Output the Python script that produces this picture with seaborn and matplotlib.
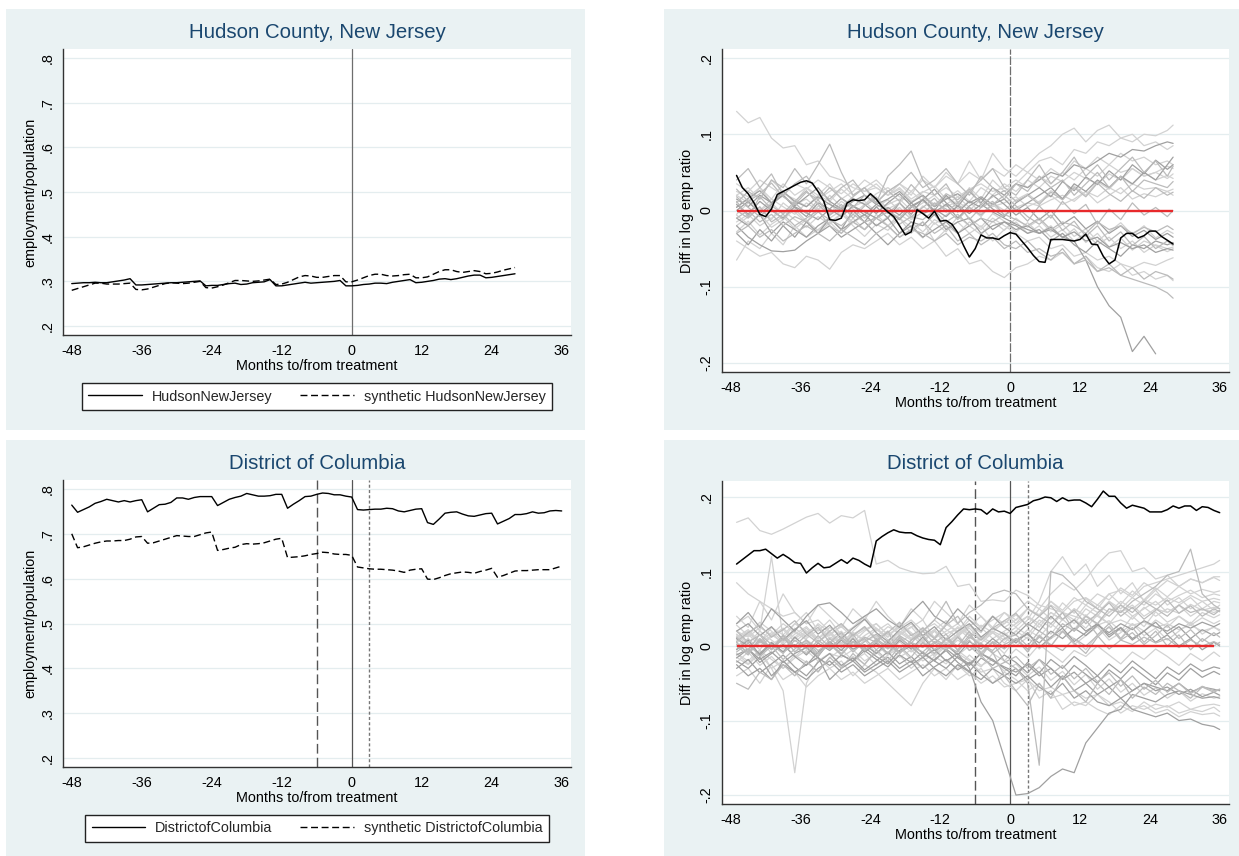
import numpy as np
import pandas as pd
import matplotlib
matplotlib.use("Agg")
import matplotlib.pyplot as plt
import seaborn as sns
from matplotlib.patches import Rectangle
from matplotlib.lines import Line2D

nan = np.nan

# ------------------------------------------------------------------ data
TITLE_NJ = "Hudson County, New Jersey"
TITLE_DC = "District of Columbia"
XLABEL = "Months to/from treatment"
YLABEL_LEVEL = "employment/population"
YLABEL_GAP = "Diff in log emp ratio"
LEGEND_NJ = ["HudsonNewJersey", "synthetic HudsonNewJersey"]
LEGEND_DC = ["DistrictofColumbia", "synthetic DistrictofColumbia"]

XTICKS = [-48, -36, -24, -12, 0, 12, 24, 36]
XTICK_LABELS = ["-48", "-36", "-24", "-12", "0", "12", "24", "36"]
LEVEL_YTICKS = [0.2, 0.3, 0.4, 0.5, 0.6, 0.7, 0.8]
LEVEL_YTICK_LABELS = [".2", ".3", ".4", ".5", ".6", ".7", ".8"]
GAP_YTICKS = [-0.2, -0.1, 0.0, 0.1, 0.2]
GAP_YTICK_LABELS = ["-.2", "-.1", "0", ".1", ".2"]

NJ_EVENT_MONTHS = [0]
DC_EVENT_MONTHS = [-6, 0, 3]

MONTHS_NJ = list(range(-48, 29))
NJ_ACTUAL = [.295, .296, .297, .297, .298, .297, .297, .299, .301, .303, .306, .292,
             .292, .293, .294, .295, .296, .297, .297, .298, .299, .300, .301, .290,
             .291, .291, .293, .295, .296, .293, .294, .297, .298, .299, .304, .290,
             .290, .292, .294, .296, .298, .296, .297, .298, .299, .300, .302, .290,
             .290, .291, .293, .294, .296, .296, .295, .298, .300, .302, .304, .297,
             .298, .300, .302, .305, .306, .304, .306, .309, .312, .314, .314, .308,
             .309, .311, .313, .315, .317]
NJ_SYNTH = [.280, .284, .288, .292, .296, .296, .294, .294, .294, .295, .296, .282,
            .281, .283, .287, .291, .295, .297, .296, .295, .296, .298, .300, .286,
            .285, .288, .292, .297, .302, .302, .301, .300, .301, .303, .305, .293,
            .294, .298, .304, .310, .313, .312, .309, .309, .311, .313, .313, .299,
            .299, .303, .308, .313, .316, .316, .313, .312, .313, .315, .316, .308,
            .308, .310, .316, .322, .326, .326, .322, .320, .322, .324, .322, .317,
            .318, .321, .325, .328, .331]

MONTHS_DC = list(range(-48, 37))
DC_ACTUAL = [.764, .748, .754, .760, .768, .772, .777, .774, .771, .774, .771, .774,
             .776, .749, .757, .765, .766, .770, .780, .780, .777, .781, .783, .783,
             .783, .763, .770, .777, .781, .784, .790, .787, .784, .784, .785, .788,
             .788, .757, .766, .774, .783, .784, .788, .791, .790, .787, .787, .784,
             .782, .754, .753, .754, .755, .755, .757, .756, .751, .749, .752, .755,
             .756, .725, .721, .733, .746, .748, .749, .744, .740, .739, .742, .745,
             .746, .722, .728, .734, .743, .743, .745, .749, .746, .747, .751, .752,
             .751]
DC_SYNTH = [.700, .669, .671, .675, .679, .682, .684, .684, .685, .685, .688, .693,
            .694, .679, .680, .684, .688, .692, .696, .695, .694, .694, .698, .702,
            .704, .663, .665, .668, .670, .676, .678, .677, .678, .680, .684, .688,
            .690, .647, .648, .649, .651, .654, .656, .659, .658, .655, .654, .654,
            .652, .626, .624, .622, .621, .621, .620, .619, .617, .614, .619, .621,
            .622, .599, .598, .602, .607, .611, .613, .615, .614, .612, .616, .619,
            .623, .603, .607, .612, .617, .618, .618, .619, .620, .620, .620, .624,
            .628]

GAP_MONTHS_NJ = list(range(-47, 29))
NJ_GAP = [.046, .030, .022, .010, -.005, -.008, .002, .021, .025, .029, .033, .037,
          .039, .036, .025, .012, -.012, -.013, -.010, .010, .014, .013, .014, .022,
          .015, .005, -.002, -.008, -.020, -.032, -.028, .001, -.004, -.010, -.001, -.014,
          -.013, -.018, -.029, -.046, -.061, -.050, -.032, -.036, -.036, -.038, -.033, -.029,
          -.031, -.040, -.049, -.059, -.067, -.068, -.038, -.038, -.038, -.039, -.040, -.038,
          -.031, -.044, -.045, -.060, -.070, -.065, -.036, -.030, -.030, -.036, -.033, -.027,
          -.027, -.034, -.039, -.044]

GAP_MONTHS_DC = list(range(-47, 37))
DC_GAP = [.110, .116, .122, .128, .128, .130, .124, .118, .123, .118, .112, .111,
          .098, .105, .111, .105, .106, .111, .116, .111, .118, .115, .110, .106,
          .141, .147, .152, .156, .153, .152, .152, .148, .145, .143, .142, .136,
          .159, .167, .176, .184, .183, .184, .183, .177, .184, .180, .181, .178,
          .186, .188, .190, .195, .197, .200, .199, .194, .199, .195, .196, .196,
          .192, .187, .197, .208, .201, .201, .192, .185, .189, .187, .185, .180,
          .180, .180, .183, .188, .185, .188, .188, .182, .187, .186, .182, .179]

# placebo (donor) gaps, read every second month
PLACEBO_MONTHS_NJ = list(range(-47, 28, 2)) + [28]
NJ_PLACEBOS = [
    [.130, .115, .122, .095, .082, .085, .060, .065, .045, .040, .030, .025, .035,
     .020, .028, .012, .020, .008, .018, .002, .012, -.004, .008, -.006, .004, .010,
     .006, .014, .020, .012, .025, .018, .030, .022, .035, .028, .030, .025, .028],
    [-.010, -.020, -.005, -.030, -.015, -.025, -.035, -.020, -.010, -.025, -.015, -.005, -.020,
     -.010, -.030, -.015, -.020, -.005, -.025, -.015, -.010, -.030, -.020, -.015, -.025, -.020,
     -.030, -.025, -.035, -.040, -.065, -.100, -.125, -.140, -.185, -.165, -.188, nan, nan],
    [.020, .030, .015, .040, .025, .010, .030, .020, .035, .015, .025, .040, .030,
     .020, .035, .025, .040, .030, .045, .035, .050, .040, .055, .045, .060, .050,
     .065, .070, .060, .080, .075, .090, .085, .095, .090, .100, .098, .105, .112],
    [.000, -.010, .005, -.015, -.005, -.020, -.010, .000, -.020, -.030, -.015, -.025, -.010,
     -.020, -.035, -.025, -.015, -.030, -.020, -.040, -.030, -.045, -.035, -.050, -.040, -.055,
     -.050, -.060, -.055, -.070, -.065, -.080, -.075, -.085, -.090, -.095, -.100, -.108, -.115],
    [-.030, -.045, -.025, -.040, -.020, -.035, -.015, -.030, -.010, -.025, .000, -.015, .005,
     -.010, .010, -.005, .015, .000, .020, .005, .025, .010, .030, .020, .035, .030,
     .040, .050, .045, .060, .055, .065, .075, .070, .080, .078, .085, .090, .088],
    [-.040, -.050, -.060, -.055, -.070, -.075, -.060, -.065, -.077, -.055, -.045, -.050, -.040,
     -.030, -.045, -.035, -.050, -.040, -.060, -.050, -.070, -.065, -.080, -.088, -.075, -.070,
     -.060, -.065, -.055, -.070, -.060, -.075, -.080, -.070, -.085, -.080, -.090, -.085, -.092],
    [.010, .025, .015, .040, .030, .055, .035, .060, .087, .050, .020, .030, .010,
     .045, .060, .078, .040, .020, .035, .010, .025, .040, .055, .030, .020, .040,
     .060, .035, .050, .070, .045, .060, .040, .055, .070, .050, .065, .045, .058],
    [-.065, -.040, -.050, -.030, -.045, -.020, -.035, -.025, -.015, -.030, -.010, -.025, -.005,
     -.020, -.010, -.030, -.015, -.040, -.025, -.015, -.030, -.020, -.040, -.025, -.015, -.030,
     -.020, -.035, -.025, -.040, -.030, -.045, -.035, -.050, -.040, -.055, -.045, -.050, -.048],
    [.020, .010, .030, .015, .035, .020, .030, .015, .025, .035, .020, .030, .040,
     .025, .035, .020, .045, .030, .050, .035, .065, .040, .075, .055, .045, .060,
     .075, .085, .100, .108, .090, .105, .112, .095, .100, .085, .090, .080, .085],
    [-.020, -.035, -.045, -.053, -.054, -.052, -.040, -.030, -.020, -.035, -.025, -.015, -.030,
     -.045, -.030, -.020, -.035, -.025, -.015, -.030, -.020, -.010, -.025, -.015, -.020, -.030,
     -.025, -.040, -.030, -.045, -.055, -.040, -.050, -.060, -.045, -.050, -.040, -.045, -.042],
    [.005, .015, .000, .010, -.005, .008, .015, .002, .010, -.008, .005, .012, -.002,
     .008, .015, .000, .010, .020, .005, .012, .000, .015, .005, .010, .018, .005,
     .012, .020, .008, .015, .025, .010, .020, .030, .015, .022, .018, .025, .020],
    [-.010, .000, -.015, -.005, -.020, -.008, -.015, -.002, -.012, -.020, -.005, -.015, -.010,
     -.002, -.018, -.008, -.012, .000, -.015, -.005, -.020, -.010, -.015, -.005, -.012, -.020,
     -.010, -.025, -.015, -.020, -.030, -.015, -.025, -.020, -.030, -.022, -.028, -.020, -.025],
    [.035, .025, .040, .030, .020, .035, .028, .040, .030, .022, .035, .025, .030,
     .020, .030, .015, .025, .020, .030, .018, .028, .035, .025, .030, .040, .030,
     .045, .035, .050, .040, .055, .045, .060, .050, .055, .045, .050, .058, .055],
    [-.030, -.020, -.035, -.025, -.040, -.030, -.020, -.030, -.040, -.025, -.035, -.045, -.030,
     -.020, -.035, -.025, -.030, -.040, -.030, -.045, -.035, -.040, -.030, -.045, -.050, -.040,
     -.055, -.065, -.050, -.070, -.060, -.080, -.070, -.085, -.075, -.090, -.080, -.085, -.090],
    [.015, .005, .020, .010, .025, .012, .005, .018, .008, .000, .012, .020, .008,
     .015, .025, .010, .020, .005, .015, .022, .010, .018, .008, .015, .000, .010,
     .020, .030, .015, .035, .025, .040, .030, .045, .035, .050, .040, .060, .070],
    [-.015, -.005, -.020, -.010, .000, -.012, -.022, -.008, -.018, -.005, -.015, -.025, -.010,
     -.020, -.005, -.015, -.028, -.012, -.020, -.030, -.015, -.025, -.010, -.020, -.030, -.040,
     -.035, -.050, -.045, -.060, -.055, -.065, -.060, -.070, -.075, -.068, -.072, -.065, -.062],
    [.040, .055, .030, .048, .020, .035, .045, .025, .015, .030, .040, .020, .010,
     .025, .035, .050, .030, .040, .055, .035, .020, .045, .030, .015, .035, .025,
     .045, .030, .040, .020, .035, .050, .030, .045, .025, .040, .035, .030, .038],
    [-.005, .010, .000, .015, .005, -.005, .010, .000, .020, .005, -.005, .008, .018,
     .002, .010, .025, .012, .005, .018, .008, .030, .015, .040, .025, .035, .050,
     .040, .055, .045, .065, .055, .070, .060, .075, .065, .070, .060, .065, .060],
    [.008, -.005, .012, .000, -.010, .005, -.003, -.012, .002, -.008, .006, -.002, -.010,
     .004, -.006, .010, -.004, .002, -.008, .006, -.004, .008, -.002, -.010, -.018, -.025,
     -.030, -.022, -.035, -.028, -.040, -.035, -.048, -.042, -.050, -.045, -.055, -.050, -.052],
    [.025, .018, .030, .010, .022, .015, .005, .020, .012, .028, .015, .008, .022,
     .030, .018, .010, .024, .032, .015, .026, .012, .030, .020, .035, .025, .040,
     .030, .045, .038, .050, .042, .035, .048, .040, .055, .045, .050, .042, .048],
    [.012, -.008, .018, .002, -.012, .010, -.004, .014, -.006, .008, -.010, .006, .016,
     -.004, .010, -.008, .004, .016, -.002, .010, -.012, .004, .012, -.006, .002, -.014,
     .006, -.010, .012, -.004, .008, -.018, .002, -.012, .010, -.006, .004, -.008, .000],
    [-.020, -.008, .004, -.012, .010, -.002, -.016, .006, -.004, .012, .002, -.010, .004,
     .014, .000, -.010, .006, -.006, .008, .018, .004, -.008, .010, .000, .014, .022,
     .010, .026, .016, .032, .020, .038, .028, .044, .034, .050, .040, .046, .042],
    [.004, .016, .026, .010, .020, .006, .018, .030, .012, .002, .016, .008, -.004,
     .010, .022, .006, .014, .028, .010, -.002, .012, .004, .020, .008, -.006, .004,
     -.012, .000, -.018, -.008, -.024, -.014, -.030, -.020, -.034, -.026, -.038, -.030, -.035],
    [-.006, -.018, -.004, -.022, -.012, .002, -.014, -.026, -.010, .000, -.016, -.006, -.020,
     -.008, .004, -.012, -.002, -.018, -.006, .006, -.010, -.022, -.004, -.014, -.028, -.016,
     -.030, -.020, -.036, -.024, -.042, -.030, -.048, -.036, -.052, -.040, -.046, -.054, -.050],
    [.028, .012, .022, .036, .018, .008, .024, .014, .030, .016, .004, .020, .010,
     .026, .012, .034, .018, .006, .022, .014, .028, .008, .018, .026, .012, .020,
     .008, .024, .014, .030, .018, .036, .022, .012, .026, .016, .030, .020, .024],
    [-.028, -.014, -.032, -.018, -.008, -.024, -.012, -.030, -.016, -.004, -.020, -.034, -.018,
     -.026, -.010, -.022, -.036, -.016, -.028, -.008, -.020, -.032, -.014, -.026, -.010, -.022,
     -.012, -.028, -.018, -.034, -.024, -.040, -.028, -.016, -.032, -.020, -.036, -.026, -.030],
    [.000, .012, -.004, .008, .020, .004, -.008, .010, .002, .016, .006, -.006, .008,
     .000, -.012, .004, .014, -.002, .008, -.010, .006, .016, .002, -.008, .010, .020,
     .030, .018, .038, .026, .044, .034, .052, .040, .060, .048, .066, .054, .060],
    [.018, .004, -.008, .006, -.004, .012, .026, .008, -.006, .004, .018, .030, .014,
     .000, -.010, .006, -.004, .010, .002, -.012, .004, -.006, .008, .020, .006, -.008,
     -.018, -.006, -.026, -.014, -.034, -.020, -.040, -.028, -.046, -.034, -.050, -.040, -.046],
]
NJ_PLACEBO_SHADES = ["light", "dark", "light", "mid", "dark", "light", "mid", "light", "light", "dark",
                     "light", "mid", "light", "mid", "dark", "light", "mid", "light", "dark", "light",
                     "mid", "light", "dark", "light", "mid", "light", "dark", "mid"]

PLACEBO_MONTHS_DC = list(range(-47, 36, 2)) + [36]
DC_PLACEBOS = [
    [.166, .172, .155, .150, .157, .165, .173, .178, .165, .175, .172, .182,
     .110, .115, .105, .100, .097, .098, .107, .080, .083, .060, .062, .060,
     .075, .068, .055, .050, .045, .040, .035, .040, .030, .035, .028, .032,
     .025, .030, .022, .028, .020, .025, .022],
    [.010, .000, -.010, .005, -.008, .002, -.012, .004, -.006, .008, -.004, .002,
     -.010, .005, -.008, .000, -.015, -.005, -.020, -.010, -.030, -.075, -.100, -.150,
     -.200, -.198, -.190, -.175, -.165, -.170, -.130, -.110, -.090, -.085, -.065, -.070,
     -.075, -.065, -.060, -.065, -.070, -.068, -.070],
    [-.010, -.020, -.005, -.030, -.060, -.170, -.050, -.020, -.010, -.015, -.005, -.020,
     -.010, .000, -.015, -.005, -.020, -.010, .005, -.012, .000, -.008, .005, -.010,
     .010, -.005, .015, .000, .020, .010, -.005, .015, .025, .010, .030, .020,
     .035, .025, .040, .030, .045, .038, .042],
    [.030, .040, .020, .120, .010, .030, .045, .020, .035, .015, .025, .040,
     .020, .030, .015, .025, .035, .010, .020, .030, .015, .025, .010, .020,
     .030, .040, .025, .045, .035, .050, .040, .030, .045, .055, .040, .050,
     .060, .045, .055, .065, .050, .060, .058],
    [.020, .005, .015, -.005, .010, .000, .015, .025, .005, .018, .000, .012,
     .005, .020, -.010, .008, .015, -.005, .010, .000, .020, -.010, .005, -.020,
     -.030, -.050, -.160, .100, .095, .080, .060, .050, .040, .055, .045, .060,
     .050, .040, .055, .045, .050, .042, .048],
    [.000, .010, -.005, .015, .005, .020, .008, -.002, .012, .004, .018, .006,
     .014, .002, .020, .010, .025, .012, .030, .018, .035, .025, .040, .030,
     .045, .060, .050, .070, .085, .075, .090, .110, .125, .128, .100, .105,
     .090, .095, .080, .090, .085, .092, .088],
    [-.020, -.030, -.015, -.040, -.025, -.035, -.045, -.030, -.020, -.035, -.025, -.040,
     -.030, -.020, -.035, -.025, -.015, -.030, -.040, -.025, -.035, -.045, -.030, -.040,
     -.050, -.040, -.055, -.065, -.050, -.070, -.060, -.075, -.080, -.070, -.085, -.090,
     -.095, -.090, -.100, -.098, -.105, -.108, -.112],
    [.010, .020, .005, .025, .015, .030, .020, .010, .025, .015, .005, .020,
     .030, .015, .025, .035, .020, .010, .030, .020, .040, .025, .035, .045,
     .030, .050, .040, .055, .045, .060, .065, .055, .070, .075, .065, .080,
     .085, .090, .095, .100, .105, .110, .115],
    [-.015, -.025, -.010, -.030, -.020, -.035, -.025, -.015, -.030, -.020, -.040, -.025,
     -.035, -.050, -.065, -.080, -.050, -.030, -.045, -.025, -.040, -.030, -.050, -.035,
     -.045, -.060, -.050, -.070, -.065, -.080, -.075, -.085, -.092, -.080, -.088, -.075,
     -.085, -.080, -.090, -.085, -.088, -.082, -.088],
    [.005, -.010, .010, -.005, .015, .000, -.010, .008, -.004, .012, .000, .010,
     -.005, .008, -.010, .005, -.002, .010, .000, -.008, .012, .002, -.006, .010,
     .015, .000, .020, .010, .030, .020, .040, .030, .050, .045, .060, .070,
     .080, .095, .100, .130, .070, .055, .050],
    [.030, .045, .025, .050, .035, .020, .040, .055, .058, .045, .030, .040,
     .050, .035, .025, .045, .060, .040, .030, .050, .035, .020, .040, .025,
     .015, .030, .020, .040, .025, .035, .020, .030, .015, .025, .010, .020,
     .005, .015, .000, .010, -.005, .005, .000],
    [-.040, -.030, -.050, -.025, -.045, -.035, -.055, -.040, -.030, -.045, -.035, -.050,
     -.040, -.030, -.045, -.035, -.025, -.040, -.030, -.045, -.035, -.050, -.040, -.055,
     -.050, -.045, -.060, -.055, -.065, -.060, -.070, -.065, -.080, -.075, -.085, -.080,
     -.090, -.085, -.095, -.088, -.092, -.090, -.094],
    [.002, -.008, .006, -.004, .010, -.002, .008, -.006, .004, -.010, .006, -.002,
     .008, -.004, .010, .000, -.008, .006, -.002, .012, -.006, .004, -.010, .002,
     .010, -.004, .012, .002, -.006, .010, .000, .014, -.004, .008, .002, .012,
     .004, .010, -.002, .008, .000, .006, .002],
    [.020, .012, .025, .015, .030, .018, .010, .022, .014, .028, .016, .024,
     .012, .026, .018, .008, .022, .030, .016, .024, .010, .028, .018, .034,
     .026, .040, .030, .045, .035, .050, .040, .055, .045, .060, .050, .062,
     .055, .065, .058, .068, .060, .064, .062],
    [-.012, -.004, -.018, -.008, -.022, -.010, -.002, -.016, -.026, -.012, -.020, -.006,
     -.018, -.028, -.012, -.022, -.008, -.020, -.030, -.014, -.024, -.010, -.020, -.028,
     -.035, -.025, -.040, -.030, -.045, -.035, -.050, -.040, -.055, -.045, -.060, -.050,
     -.055, -.060, -.050, -.062, -.055, -.058, -.060],
    [.085, .070, .060, .050, .040, .045, .030, .035, .020, .030, .015, .025,
     .010, .020, .005, .015, .000, .010, -.005, .008, -.002, .012, .004, .015,
     .025, .015, .035, .025, .045, .035, .055, .045, .060, .050, .065, .055,
     .070, .060, .068, .075, .065, .070, .068],
    [-.050, -.058, -.035, -.045, -.025, -.040, -.020, -.035, -.015, -.030, -.010, -.025,
     -.005, -.020, .000, -.015, .005, -.010, .010, -.005, .015, .000, -.008, -.040,
     -.060, -.080, -.050, -.070, -.040, -.060, -.075, -.050, -.065, -.045, -.070, -.055,
     -.065, -.050, -.060, -.070, -.055, -.062, -.058],
    [.040, .025, .060, .035, .070, .045, .030, .055, .040, .025, .050, .035,
     .060, .040, .025, .050, .035, .060, .045, .030, .055, .040, .025, .045,
     .035, .050, .040, .060, .045, .030, .050, .040, .060, .045, .055, .040,
     .050, .045, .055, .040, .050, .045, .048],
    [-.025, -.040, -.030, -.045, -.020, -.035, -.025, -.015, -.045, -.030, -.020, -.035,
     -.025, -.015, -.030, -.020, -.040, -.028, -.018, -.032, -.022, -.038, -.050, -.040,
     -.030, -.045, -.035, -.055, -.040, -.060, -.050, -.065, -.055, -.070, -.060, -.050,
     -.060, -.055, -.065, -.058, -.068, -.062, -.066],
    [.008, .018, .004, .014, .024, .010, .020, .006, .016, .026, .012, .022,
     .030, .015, .025, .010, .020, .035, .022, .012, .028, .018, .040, .025,
     .035, .050, .042, .060, .048, .065, .055, .070, .062, .078, .068, .085,
     .075, .088, .080, .090, .085, .093, .093],
    [-.005, .008, -.012, .004, -.008, .012, -.002, -.014, .006, -.006, .010, -.008,
     .004, -.010, .008, -.004, .012, -.006, .002, -.012, .006, -.004, .010, -.002,
     .008, .016, .004, .020, .010, .024, .014, .028, .018, .030, .022, .034,
     .026, .020, .030, .024, .032, .026, .030],
    [.015, .000, .010, -.010, .005, -.015, .000, -.010, .005, -.005, .012, -.008,
     .002, -.012, .006, -.008, .004, -.014, .000, -.010, -.020, -.035, -.030, -.050,
     -.060, -.045, -.070, -.060, -.085, -.075, -.080, -.065, -.075, -.090, -.080, -.085,
     -.078, -.082, -.075, -.085, -.080, -.078, -.080],
    [-.008, .004, -.014, .000, -.018, -.004, .008, -.010, .002, -.012, .006, -.006,
     .010, -.002, .014, .004, .020, .035, .060, .030, .045, .055, .070, .075,
     .070, .050, .040, .030, .045, .020, .035, .015, .030, .010, .025, .005,
     .020, .000, .015, -.005, .010, .000, .005],
    [.012, .022, .006, .018, .002, .016, .026, .010, .020, .004, .018, .008,
     .022, .012, .028, .016, .006, .020, .010, .026, .014, .004, .018, .008,
     .020, .035, .060, .100, .120, .095, .110, .080, .095, .070, .085, .060,
     .075, .055, .065, .050, .060, .048, .055],
    [.012, -.006, .016, .002, -.010, .008, -.004, .014, -.002, .010, -.008, .006,
     .016, .002, -.010, .008, .020, .004, -.006, .012, .000, -.014, .006, -.004,
     .010, -.008, .014, .000, .020, .004, -.010, .012, .026, .008, .018, .002,
     .014, .028, .010, .022, .006, .018, .012],
    [-.004, .010, -.014, .002, .012, -.008, .006, -.012, .004, .014, -.006, .008,
     -.010, .004, .014, -.004, .008, -.012, .002, .016, -.006, .010, .000, .018,
     .006, .022, .012, .030, .018, .036, .024, .042, .030, .048, .036, .052,
     .040, .050, .044, .056, .048, .052, .050],
    [.020, .030, .014, .026, .008, .022, .034, .016, .028, .010, .024, .036,
     .018, .006, .022, .032, .014, .026, .008, .020, .030, .012, .024, .016,
     .004, .018, -.002, .012, .024, .006, .018, .030, .012, .024, .008, .020,
     .032, .016, .026, .010, .022, .014, .018],
    [-.022, -.008, -.026, -.014, -.030, -.016, -.006, -.020, -.010, -.028, -.014, -.024,
     -.008, -.022, -.012, -.030, -.016, -.004, -.020, -.030, -.012, -.026, -.018, -.034,
     -.024, -.040, -.028, -.046, -.034, -.052, -.038, -.058, -.044, -.062, -.050, -.066,
     -.056, -.070, -.060, -.074, -.064, -.070, -.068],
    [.006, .018, .028, .012, .022, .034, .016, .004, .020, .030, .014, .026,
     .008, .018, .032, .014, .024, .010, .028, .040, .018, .008, .024, .034,
     .044, .026, .040, .054, .036, .048, .030, .044, .058, .040, .052, .036,
     .048, .062, .044, .054, .040, .050, .046],
    [-.010, -.024, -.006, -.018, -.030, -.012, -.022, -.034, -.016, -.004, -.020, -.010,
     -.026, -.012, -.002, -.018, -.030, -.014, -.024, -.006, -.018, -.028, -.010, -.020,
     -.004, -.016, .002, -.010, -.022, -.006, -.014, .000, -.012, -.024, -.008, -.018,
     -.004, -.014, -.026, -.010, -.020, -.008, -.014],
    [-.030, -.018, -.036, -.024, -.012, -.028, -.040, -.022, -.010, -.026, -.016, -.032,
     -.020, -.008, -.024, -.014, -.030, -.018, -.006, -.022, -.034, -.016, -.026, -.012,
     -.022, -.036, -.018, -.030, -.044, -.026, -.038, -.050, -.032, -.044, -.028, -.040,
     -.052, -.036, -.046, -.030, -.042, -.034, -.038],
    [.028, .014, .032, .020, .006, .024, .012, .030, .018, .002, .020, .036,
     .024, .012, .030, .018, .004, .022, .034, .016, .026, .040, .022, .030,
     .042, .028, .050, .036, .058, .044, .064, .050, .070, .056, .074, .062,
     .078, .066, .080, .070, .076, .072, .074],
    [.000, -.012, .008, -.004, .014, -.008, .004, -.014, .010, -.002, .016, -.006,
     .006, -.010, .012, -.002, -.014, .004, .016, -.006, .008, -.012, -.030, -.022,
     -.014, -.030, -.018, -.038, -.026, -.044, -.030, -.048, -.036, -.054, -.040, -.058,
     -.046, -.062, -.050, -.064, -.054, -.060, -.058],
    [.016, .004, .020, .008, -.004, .012, .024, .006, .018, .000, .014, .026,
     .010, -.002, .016, .026, .008, .020, .002, .014, .024, .008, .018, .004,
     .020, .010, .030, .016, .036, .022, .042, .028, .034, .020, .040, .026,
     .046, .032, .040, .028, .038, .030, .034],
    [-.016, -.004, -.022, -.010, .002, -.014, -.026, -.008, .004, -.012, -.020, -.002,
     -.014, -.024, -.006, .004, -.010, -.020, -.004, -.016, -.026, -.010, -.018, -.030,
     -.040, -.022, -.036, -.018, -.030, -.014, -.026, -.040, -.024, -.036, -.020, -.032,
     -.044, -.028, -.038, -.024, -.034, -.028, -.030],
    [.004, .016, .000, .012, .022, .006, .018, .028, .010, .020, .002, .014,
     .024, .008, .018, .030, .012, .022, .004, .016, .028, .010, .020, .012,
     .000, .012, -.004, .010, .020, .002, .014, .026, .008, .018, .030, .014,
     .024, .008, .020, .032, .016, .026, .020],
]
DC_PLACEBO_SHADES = ["light", "dark", "light", "light", "mid", "light", "dark", "light", "light", "mid",
                     "dark", "light", "mid", "light", "dark", "light", "mid", "light", "dark", "light",
                     "dark", "light", "mid", "light",
                     "mid", "light", "dark", "light", "mid", "light", "dark", "light", "mid", "light",
                     "dark", "light"]

# ------------------------------------------------------------------ style
sns.set_theme(style="white")
plt.rcParams["font.family"] = ["Liberation Sans", "DejaVu Sans"]

BG = "#EAF2F3"
NAVY = "#1A476F"
GRID = "#E4EDEF"
AXC = "#333333"
GRAYS = {"light": "#D2D2D2", "mid": "#BBBBBB", "dark": "#A0A0A0"}
FS = 10.4

W, H = 1239, 856
fig = plt.figure(figsize=(W / 100, H / 100), dpi=100, facecolor="white")


def rect(x0, y0, x1, y1):
    return [x0 / W, 1 - y1 / H, (x1 - x0) / W, (y1 - y0) / H]


for (x0, y0, x1, y1) in [(6, 9, 585, 430), (664, 9, 1239, 430),
                         (6, 440, 585, 856), (664, 440, 1239, 856)]:
    fig.patches.append(Rectangle((x0 / W, 1 - y1 / H), (x1 - x0) / W, (y1 - y0) / H,
                                 transform=fig.transFigure, facecolor=BG,
                                 edgecolor="none", zorder=-10))

panels = {
    "tl": (63, 49, 571, 335),
    "tr": (722, 49, 1229, 372),
    "bl": (63, 480, 571, 767),
    "br": (722, 481, 1229, 804),
}
axes = {}
for k, v in panels.items():
    a = fig.add_axes(rect(*v))
    a.set_zorder(1)
    axes[k] = a


def style(key, ylim, yticks, ylabels, ylabel, title, title_y):
    ax = axes[key]
    x0, y0, x1, y1 = panels[key]
    pw, ph = x1 - x0, y1 - y0
    ax.set_facecolor("white")
    ax.set_xlim(-49.5, 37.6)
    ax.set_ylim(*ylim)
    ax.set_xticks(XTICKS)
    ax.set_xticklabels(XTICK_LABELS)
    ax.set_yticks(yticks)
    ax.set_yticklabels(ylabels, rotation=90, va="center")
    ax.grid(False)
    for yt in yticks:
        ax.axhline(yt, color=GRID, lw=0.9, zorder=0.5)
    for s in ["top", "right"]:
        ax.spines[s].set_visible(False)
    for s in ["left", "bottom"]:
        ax.spines[s].set_color(AXC)
        ax.spines[s].set_linewidth(1.0)
    ax.tick_params(direction="out", length=3.8, width=0.8, color=AXC,
                   labelsize=FS, labelcolor="black", pad=3)
    ax.tick_params(axis="y", pad=2.5)
    ax.set_xlabel(XLABEL, fontsize=FS, color="black")
    ax.xaxis.set_label_coords(0.5, -31 / ph)
    ax.xaxis.label.set_va("center")
    ax.set_ylabel(ylabel, fontsize=FS, color="black")
    ax.yaxis.set_label_coords(-(33 if key in ("tl", "bl") else 35) / pw, 0.5)
    ax.yaxis.label.set_va("center")
    fig.text(((x0 + x1) / 2) / W, 1 - title_y / H, title, ha="center", va="center",
             color=NAVY, fontsize=14.7, zorder=2)
    return ax


def placebo_frame(months, series, shades):
    rows = []
    for i, (vals, shade) in enumerate(zip(series, shades)):
        assert len(vals) == len(months), (i, len(vals))
        for m, v in zip(months, vals):
            rows.append({"month": m, "gap": v, "unit": i, "shade": shade})
    return pd.DataFrame(rows)


def legend(ax, labels, cy):
    handles = [Line2D([], [], color="black", lw=1.0),
               Line2D([], [], color="black", lw=1.0, dashes=(5, 2.6))]
    lg = ax.legend(handles, labels, loc="center", ncol=2,
                   bbox_to_anchor=(317 / W, 1 - cy / H), bbox_transform=fig.transFigure,
                   frameon=True, fancybox=False, edgecolor="#222222", facecolor="white",
                   framealpha=1, fontsize=FS, handlelength=3.7, handletextpad=0.7,
                   columnspacing=1.9, borderpad=0.45, borderaxespad=0)
    lg.get_frame().set_linewidth(1.0)


# ---------------- top-left: Hudson levels
ax = style("tl", (0.18, 0.82), LEVEL_YTICKS, LEVEL_YTICK_LABELS, YLABEL_LEVEL, TITLE_NJ, 33)
for m in NJ_EVENT_MONTHS:
    ax.axvline(m, color="#6E6E6E", lw=0.9, zorder=1.5)
sns.lineplot(x=MONTHS_NJ, y=NJ_ACTUAL, ax=ax, color="black", lw=1.0,
             estimator=None, errorbar=None, zorder=3)
sns.lineplot(x=MONTHS_NJ, y=NJ_SYNTH, ax=ax, color="black", lw=1.0,
             estimator=None, errorbar=None, zorder=3)
ax.lines[-1].set_dashes((5, 2.6))
legend(ax, LEGEND_NJ, 396.5)

# ---------------- top-right: Hudson placebo gaps
ax = style("tr", (-0.2118, 0.2118), GAP_YTICKS, GAP_YTICK_LABELS, YLABEL_GAP, TITLE_NJ, 33)
for m in NJ_EVENT_MONTHS:
    ax.axvline(m, color="#6E6E6E", lw=0.9, dashes=(7, 1.2), zorder=1.5)
df = placebo_frame(PLACEBO_MONTHS_NJ, NJ_PLACEBOS, NJ_PLACEBO_SHADES)
sns.lineplot(data=df, x="month", y="gap", units="unit", hue="shade", palette=GRAYS,
             estimator=None, legend=False, lw=0.9, ax=ax, sort=False, zorder=2)
ax.hlines(0, GAP_MONTHS_NJ[0], GAP_MONTHS_NJ[-1], color="#E8292B", lw=1.7, zorder=3)
sns.lineplot(x=GAP_MONTHS_NJ, y=NJ_GAP, ax=ax, color="black", lw=1.1,
             estimator=None, errorbar=None, zorder=4)

# ---------------- bottom-left: DC levels
ax = style("bl", (0.18, 0.82), LEVEL_YTICKS, LEVEL_YTICK_LABELS, YLABEL_LEVEL, TITLE_DC, 464)
ax.axvline(DC_EVENT_MONTHS[0], color="#555555", lw=1.0, dashes=(7, 3), zorder=1.5)
ax.axvline(DC_EVENT_MONTHS[1], color="#555555", lw=0.9, zorder=1.5)
ax.axvline(DC_EVENT_MONTHS[2], color="#777777", lw=1.0, dashes=(2.2, 1.6), zorder=1.5)
sns.lineplot(x=MONTHS_DC, y=DC_ACTUAL, ax=ax, color="black", lw=1.0,
             estimator=None, errorbar=None, zorder=3)
sns.lineplot(x=MONTHS_DC, y=DC_SYNTH, ax=ax, color="black", lw=1.0,
             estimator=None, errorbar=None, zorder=3)
ax.lines[-1].set_dashes((5, 2.6))
legend(ax, LEGEND_DC, 828)

# ---------------- bottom-right: DC placebo gaps
ax = style("br", (-0.212, 0.2215), GAP_YTICKS, GAP_YTICK_LABELS, YLABEL_GAP, TITLE_DC, 464)
ax.axvline(DC_EVENT_MONTHS[0], color="#555555", lw=1.0, dashes=(7, 3), zorder=1.5)
ax.axvline(DC_EVENT_MONTHS[1], color="#555555", lw=0.9, zorder=1.5)
ax.axvline(DC_EVENT_MONTHS[2], color="#777777", lw=1.0, dashes=(2.2, 1.6), zorder=1.5)
df = placebo_frame(PLACEBO_MONTHS_DC, DC_PLACEBOS, DC_PLACEBO_SHADES)
sns.lineplot(data=df, x="month", y="gap", units="unit", hue="shade", palette=GRAYS,
             estimator=None, legend=False, lw=0.9, ax=ax, sort=False, zorder=2)
ax.hlines(0, GAP_MONTHS_DC[0], GAP_MONTHS_DC[-2], color="#E8292B", lw=1.7, zorder=3)
sns.lineplot(x=GAP_MONTHS_DC, y=DC_GAP, ax=ax, color="black", lw=1.1,
             estimator=None, errorbar=None, zorder=4)

fig.savefig("out.png", dpi=100, facecolor="white")
